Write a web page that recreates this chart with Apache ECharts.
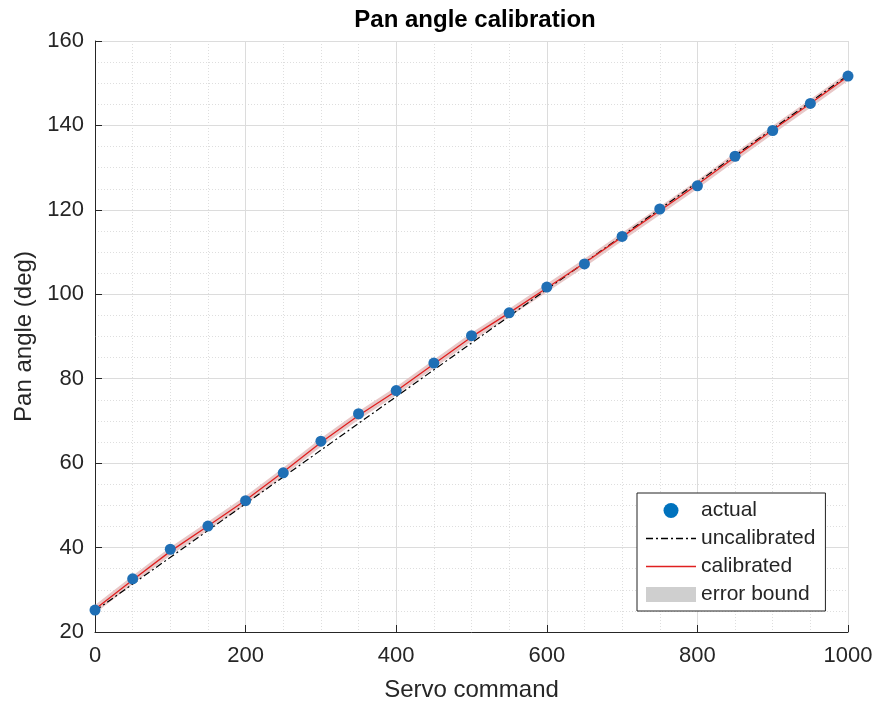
<!DOCTYPE html>
<html>
<head>
<meta charset="utf-8">
<title>Pan angle calibration</title>
<script src="https://cdn.jsdelivr.net/npm/echarts@6/dist/echarts.min.js"></script>
<style>
  html, body { margin: 0; padding: 0; background: #fff; }
  #main { width: 875px; height: 704px; }
</style>
</head>
<body>
<div id="main"></div>
<script>
// 舵机指令
const servoCmd = [0, 50, 100, 150, 200, 250, 300, 350, 400, 450, 500,
  550, 600, 650, 700, 750, 800, 850, 900, 950, 1000]

// 实测角度
const actual = [25.2, 32.6, 39.6, 45.1, 51.1, 57.7, 65.2, 71.7, 77.2, 83.7, 90.2,
  95.6, 101.7, 107.2, 113.7, 120.2, 125.7, 132.7, 138.8, 145.2, 151.7]

// 校准后
const calibrated = [25.4, 32.3, 39.1, 45.1, 51.2, 57.9, 64.9, 71.3, 77.1, 83.5, 89.9,
  95.6, 101.5, 107.4, 113.6, 119.8, 126.0, 132.5, 138.9, 145.2, 151.6]

// 未校准 (直线两端)
const uncalCmd = [0, 1000]
const uncalibrated = [25.0, 151.9]

// 误差带 ± 1 deg
const errBound = 1.0

const xTicks = [0, 200, 400, 600, 800, 1000]
const yTicks = [20, 40, 60, 80, 100, 120, 140, 160]

const font = '"Liberation Sans", Arial, Helvetica, sans-serif'
const textColor = '#262626'

// 图例图标
const solidIcon = 'path://M0,0h50v1.3h-50z'
const dashDotIcon = 'path://M0,0h7v1.3h-7zM10,0h2v1.3h-2zM15,0h7v1.3h-7zM25,0h2v1.3h-2zM30,0h7v1.3h-7zM40,0h2v1.3h-2zM45,0h5v1.3h-5z'

let myChart = echarts.init(document.getElementById('main'))

// 误差带: 用坐标系换算画多边形
function renderBand(params, api) {
  if (params.dataIndex !== 0) return
  let upper = servoCmd.map((x, i) => api.coord([x, calibrated[i] + errBound]))
  let lower = servoCmd.map((x, i) => api.coord([x, calibrated[i] - errBound])).reverse()
  return {
    type: 'polygon',
    shape: { points: upper.concat(lower) },
    style: { fill: 'rgba(226, 186, 186, 0.8)' }
  }
}

let options = {
  animation: false,
  backgroundColor: '#fff',
  title: {
    text: 'Pan angle calibration',
    left: 470,
    textAlign: 'center',
    top: 3,
    textStyle: { fontFamily: font, fontSize: 24, fontWeight: 'bold', color: '#000' }
  },
  grid: { left: 95, right: 27, top: 41, bottom: 72, containLabel: false, outerBoundsMode: 'none' },
  legend: {
    orient: 'vertical',
    left: 637,
    top: 493,
    padding: [7, 10, 6, 9],
    itemGap: 7,
    itemWidth: 50,
    itemHeight: 15,
    backgroundColor: '#fff',
    borderColor: '#222',
    borderWidth: 1,
    borderRadius: 0,
    selectedMode: false,
    textStyle: { fontFamily: font, fontSize: 21, color: textColor },
    data: [
      { name: 'actual', icon: 'circle', itemStyle: { color: '#0072BD' } },
      { name: 'uncalibrated', icon: dashDotIcon, itemStyle: { color: '#000' } },
      { name: 'calibrated', icon: solidIcon, itemStyle: { color: '#e02020' } },
      { name: 'error bound', icon: 'rect', itemStyle: { color: '#cfcfcf' } }
    ]
  },
  xAxis: {
    type: 'value',
    min: 0,
    max: 1000,
    interval: 200,
    name: 'Servo command',
    nameLocation: 'middle',
    nameGap: 46,
    nameTextStyle: { fontFamily: font, fontSize: 24, color: textColor },
    axisLine: { show: true, lineStyle: { color: '#262626', width: 1 } },
    axisTick: { show: true, inside: true, length: 7, lineStyle: { color: '#262626' } },
    axisLabel: {
      fontFamily: font, fontSize: 22, color: textColor, margin: 13,
      formatter: v => String(v),
      customValues: xTicks
    },
    splitLine: { show: true, lineStyle: { color: '#dcdcdc', width: 1 } },
    minorTick: { show: false, splitNumber: 4 },
    minorSplitLine: { show: true, lineStyle: { color: '#dedede', type: [1, 2], width: 1 } }
  },
  yAxis: {
    type: 'value',
    min: 20,
    max: 160,
    interval: 20,
    name: 'Pan angle (deg)',
    nameLocation: 'middle',
    nameGap: 58,
    nameTextStyle: { fontFamily: font, fontSize: 24, color: textColor },
    axisLine: { show: true, lineStyle: { color: '#262626', width: 1 } },
    axisTick: { show: true, inside: true, length: 7, lineStyle: { color: '#262626' } },
    axisLabel: {
      fontFamily: font, fontSize: 22, color: textColor, margin: 11,
      formatter: v => String(v),
      customValues: yTicks
    },
    splitLine: { show: true, lineStyle: { color: '#dcdcdc', width: 1 } },
    minorTick: { show: false, splitNumber: 4 },
    minorSplitLine: { show: true, lineStyle: { color: '#dedede', type: [1, 2], width: 1 } }
  },
  series: [
    {
      name: 'error bound',
      type: 'custom',
      renderItem: renderBand,
      data: servoCmd.map((x, i) => [x, calibrated[i]]),
      encode: { x: 0, y: 1 },
      color: '#cfcfcf',
      silent: true,
      z: 1
    },
    {
      name: 'uncalibrated',
      type: 'line',
      data: uncalCmd.map((x, i) => [x, uncalibrated[i]]),
      symbol: 'none',
      color: '#000',
      lineStyle: { color: '#000', width: 1.2, type: [7, 3, 2, 3] },
      z: 3
    },
    {
      name: 'calibrated',
      type: 'line',
      data: servoCmd.map((x, i) => [x, calibrated[i]]),
      symbol: 'none',
      color: '#e02020',
      lineStyle: { color: '#e02020', width: 1.3 },
      z: 4
    },
    {
      name: 'actual',
      type: 'scatter',
      data: servoCmd.map((x, i) => [x, actual[i]]),
      symbol: 'circle',
      symbolSize: 11,
      itemStyle: { color: '#1f6fb5', opacity: 1 },
      z: 5
    }
  ]
}

if (options && typeof options === 'object') {
  myChart.setOption(options)
}
</script>
</body>
</html>
